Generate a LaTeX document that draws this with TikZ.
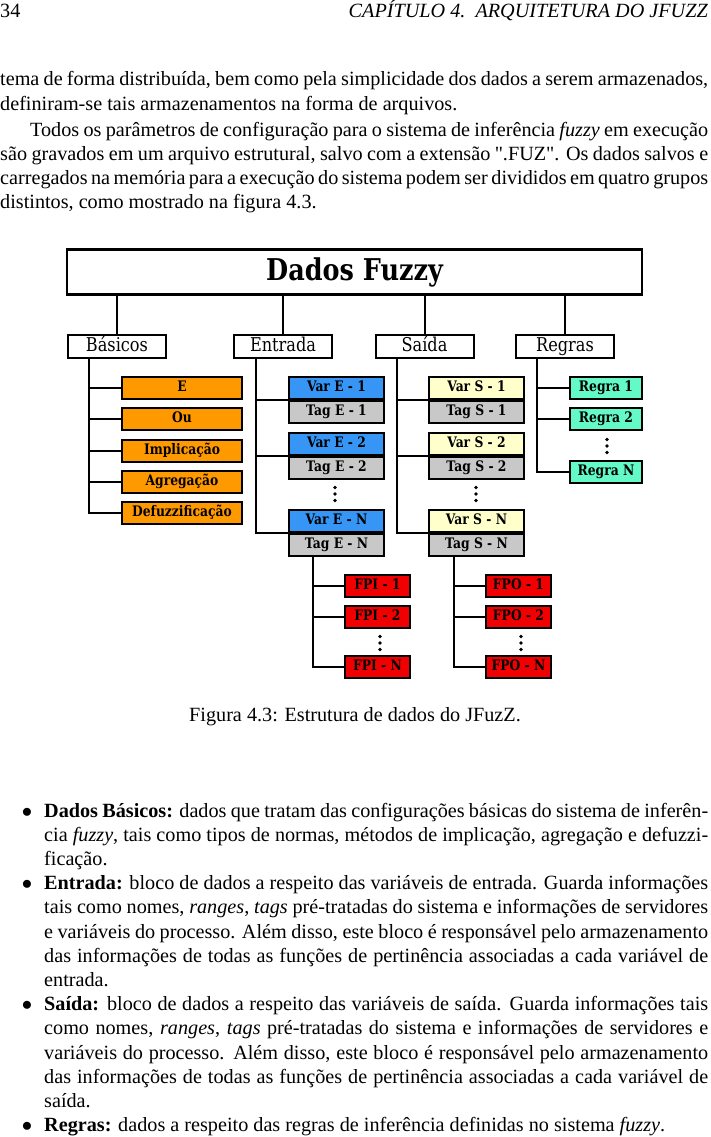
\documentclass[tikz,border=0pt]{standalone}
\usepackage{fontspec}
\setmainfont{Liberation Serif}
\newfontfamily\diagfont[FakeStretch=0.85]{DejaVu Serif}
\definecolor{laranja}{RGB}{255,153,0}
\definecolor{azul}{RGB}{55,150,245}
\definecolor{cinza}{RGB}{200,200,200}
\definecolor{amarelo}{RGB}{255,255,204}
\definecolor{verde}{RGB}{100,250,200}
\definecolor{vermelho}{RGB}{240,0,0}
\begin{document}
\begin{tikzpicture}[x=1pt, y=-1pt,
		texto/.style={anchor=base west, inner sep=0pt, align=justify, font=\fontsize{20.2}{24.2}\selectfont},
		ligacao/.style={line width=2pt},
		caixa/.style={draw, line width=2pt, inner sep=0pt, minimum height=22pt, text height=10.5pt, text depth=3pt, font=\diagfont\bfseries\fontsize{14.5}{16}\selectfont},
		grupo/.style={draw, line width=2pt, inner sep=0pt, minimum width=98pt, minimum height=23pt, text height=13pt, text depth=4pt, fill=white, font=\diagfont\fontsize{19}{21}\selectfont},
		basico/.style={caixa, fill=laranja, minimum width=120pt},
		varin/.style={caixa, fill=azul, minimum width=95pt},
		varout/.style={caixa, fill=amarelo, minimum width=95pt},
		tag/.style={caixa, fill=cinza, minimum width=95pt},
		regra/.style={caixa, fill=verde, minimum width=72pt},
		fp/.style={caixa, fill=vermelho, minimum width=65pt}]
		\useasboundingbox (0, 0) rectangle (710, 1137);

		% page text above the figure
		\node [anchor=base west, inner sep=0pt, font=\fontsize{20.2}{24.2}\selectfont] (pagina) at (0, 18) {34};
		\node [anchor=base east, inner sep=0pt, font=\itshape\fontsize{20.2}{24.2}\selectfont] (capitulo) at (708, 18) {CAPÍTULO 4.\ \ ARQUITETURA DO JFUZZ};
		\node [texto, text width=708pt] (par1) at (0, 86) {tema de forma distribuída, bem como pela simplicidade dos dados a serem armazenados,\linebreak definiram-se tais armazenamentos na forma de arquivos.};
		\node [texto, text width=708pt] (par2) at (0, 136) {\hspace*{30pt}Todos os parâmetros de configuração para o sistema de inferência \textit{fuzzy} em execução\linebreak são gravados em um arquivo estrutural, salvo com a extensão {\addfontfeature{Ligatures=TeXOff}".FUZ"}. Os dados salvos e\linebreak carregados na memória para a execução do sistema podem ser divididos em quatro grupos\linebreak distintos, como mostrado na figura 4.3.};

		% figure
		\node [draw, line width=2.5pt, inner sep=0pt, minimum width=575pt, minimum height=45pt, font=\diagfont\bfseries\fontsize{30}{32}\selectfont] (dados) at (354.5, 272) {Dados Fuzzy};
		\node [grupo] (basicos) at (117, 346.5) {Básicos};
		\node [grupo] (entrada) at (283, 346.5) {Entrada};
		\node [grupo] (saida) at (424.5, 346.5) {Saída};
		\node [grupo] (regras) at (565, 346.5) {Regras};
		\draw [ligacao] (basicos.north) to (basicos.north |- dados.south);
		\draw [ligacao] (entrada.north) to (entrada.north |- dados.south);
		\draw [ligacao] (saida.north) to (saida.north |- dados.south);
		\draw [ligacao] (regras.north) to (regras.north |- dados.south);

		% basicos
		\node [] (tb) at (89, 359) {};
		\node [basico] (e) at (182, 388) {E};
		\node [basico] (ou) at (182, 419) {Ou};
		\node [basico] (implicacao) at (182, 451) {Implicação};
		\node [basico] (agregacao) at (182, 482) {Agregação};
		\node [basico] (defuzz) at (182, 513) {Defuzzificação};
		\draw [ligacao] (tb.center) |- (defuzz.west);
		\draw [ligacao] (tb.center |- e.west) to (e.west);
		\draw [ligacao] (tb.center |- ou.west) to (ou.west);
		\draw [ligacao] (tb.center |- implicacao.west) to (implicacao.west);
		\draw [ligacao] (tb.center |- agregacao.west) to (agregacao.west);

		% entrada
		\node [] (te) at (256, 359) {};
		\node [varin] (vare1) at (336.5, 388) {Var E - 1};
		\node [tag] (tage1) at (336.5, 412) {Tag E - 1};
		\node [varin] (vare2) at (336.5, 444) {Var E - 2};
		\node [tag] (tage2) at (336.5, 468) {Tag E - 2};
		\node [] (pe) at (335, 494) {};
		\fill (pe.center) circle [radius=1.8] ++(0, -6.5) circle [radius=1.8] ++(0, 13) circle [radius=1.8];
		\node [varin] (varen) at (336.5, 521) {Var E - N};
		\node [tag] (tagen) at (336.5, 545) {Tag E - N};
		\draw [ligacao] (te.center) |- (varen.south west);
		\draw [ligacao] (te.center |- vare1.south west) to (vare1.south west);
		\draw [ligacao] (te.center |- vare2.south west) to (vare2.south west);

		% saida
		\node [] (ts) at (397, 359) {};
		\node [varout] (vars1) at (476.5, 388) {Var S - 1};
		\node [tag] (tags1) at (476.5, 412) {Tag S - 1};
		\node [varout] (vars2) at (476.5, 444) {Var S - 2};
		\node [tag] (tags2) at (476.5, 468) {Tag S - 2};
		\node [] (ps) at (476, 494) {};
		\fill (ps.center) circle [radius=1.8] ++(0, -6.5) circle [radius=1.8] ++(0, 13) circle [radius=1.8];
		\node [varout] (varsn) at (476.5, 521) {Var S - N};
		\node [tag] (tagsn) at (476.5, 545) {Tag S - N};
		\draw [ligacao] (ts.center) |- (varsn.south west);
		\draw [ligacao] (ts.center |- vars1.south west) to (vars1.south west);
		\draw [ligacao] (ts.center |- vars2.south west) to (vars2.south west);

		% regras
		\node [] (tr) at (537, 359) {};
		\node [regra] (regra1) at (606, 388) {Regra 1};
		\node [regra] (regra2) at (606, 419) {Regra 2};
		\node [] (pr) at (607, 446) {};
		\fill (pr.center) circle [radius=1.8] ++(0, -6.5) circle [radius=1.8] ++(0, 13) circle [radius=1.8];
		\node [regra] (regran) at (606, 471.5) {Regra N};
		\draw [ligacao] (tr.center) |- (regran.west);
		\draw [ligacao] (tr.center |- regra1.west) to (regra1.west);
		\draw [ligacao] (tr.center |- regra2.west) to (regra2.west);

		% funcoes de pertinencia
		\node [] (tfi) at (313, 557) {};
		\node [fp] (fpi1) at (377.5, 586) {FPI - 1};
		\node [fp] (fpi2) at (377.5, 617) {FPI - 2};
		\node [] (pfi) at (380, 643) {};
		\fill (pfi.center) circle [radius=1.8] ++(0, -6.5) circle [radius=1.8] ++(0, 13) circle [radius=1.8];
		\node [fp] (fpin) at (377.5, 667) {FPI - N};
		\draw [ligacao] (tfi.center) |- (fpin.west);
		\draw [ligacao] (tfi.center |- fpi1.west) to (fpi1.west);
		\draw [ligacao] (tfi.center |- fpi2.west) to (fpi2.west);
		\node [] (tfo) at (454, 557) {};
		\node [fp] (fpo1) at (518.5, 586) {FPO - 1};
		\node [fp] (fpo2) at (518.5, 617) {FPO - 2};
		\node [] (pfo) at (521, 643) {};
		\fill (pfo.center) circle [radius=1.8] ++(0, -6.5) circle [radius=1.8] ++(0, 13) circle [radius=1.8];
		\node [fp] (fpon) at (518.5, 667) {FPO - N};
		\draw [ligacao] (tfo.center) |- (fpon.west);
		\draw [ligacao] (tfo.center |- fpo1.west) to (fpo1.west);
		\draw [ligacao] (tfo.center |- fpo2.west) to (fpo2.west);

		\node [anchor=base, inner sep=0pt, font=\fontsize{20.2}{24.2}\selectfont] (legenda) at (355, 721) {Figura 4.3: Estrutura de dados do JFuzZ.};

		% items
		\node [anchor=base, inner sep=0pt, font=\fontsize{20.2}{24.2}\selectfont] (b1) at (27, 817) {$\bullet$};
		\node [texto, text width=664pt] (item1) at (44, 817) {\textbf{Dados Básicos:} dados que tratam das configurações básicas do sistema de inferên-\linebreak cia \textit{fuzzy}, tais como tipos de normas, métodos de implicação, agregação e defuzzi-\linebreak ficação.};
		\node [anchor=base, inner sep=0pt, font=\fontsize{20.2}{24.2}\selectfont] (b2) at (27, 889.6) {$\bullet$};
		\node [texto, text width=664pt] (item2) at (44, 889.6) {\textbf{Entrada:} bloco de dados a respeito das variáveis de entrada. Guarda informações\linebreak tais como nomes, \textit{ranges}, \textit{tags} pré-tratadas do sistema e informações de servidores\linebreak e variáveis do processo. Além disso, este bloco é responsável pelo armazenamento\linebreak das informações de todas as funções de pertinência associadas a cada variável de\linebreak entrada.};
		\node [anchor=base, inner sep=0pt, font=\fontsize{20.2}{24.2}\selectfont] (b3) at (27, 1010.6) {$\bullet$};
		\node [texto, text width=664pt] (item3) at (44, 1010.6) {\textbf{Saída:} bloco de dados a respeito das variáveis de saída. Guarda informações tais\linebreak como nomes, \textit{ranges}, \textit{tags} pré-tratadas do sistema e informações de servidores e\linebreak variáveis do processo. Além disso, este bloco é responsável pelo armazenamento\linebreak das informações de todas as funções de pertinência associadas a cada variável de\linebreak saída.};
		\node [anchor=base, inner sep=0pt, font=\fontsize{20.2}{24.2}\selectfont] (b4) at (27, 1131.6) {$\bullet$};
		\node [texto, text width=664pt] (item4) at (44, 1131.6) {\textbf{Regras:} dados a respeito das regras de inferência definidas no sistema \textit{fuzzy}.};
\end{tikzpicture}
\end{document}
